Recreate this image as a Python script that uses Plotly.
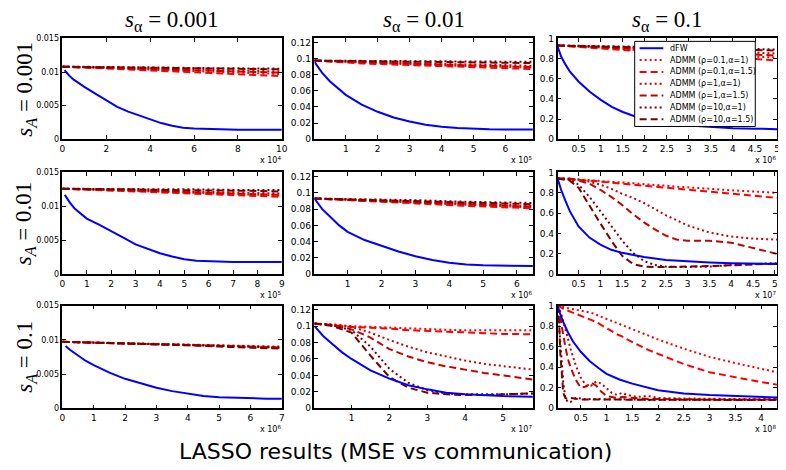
import plotly.graph_objects as go

# The page body adds an 8px margin, so the figure is drawn 8px smaller and
# every pixel position is measured from the window corner minus that offset.
PAGE_OFF = 8
W, H = 786 - PAGE_OFF, 470 - PAGE_OFF

# ---------------- series names / styles ----------------
series_names = ["dFW", "ADMM (ρ=0.1,α=1)", "ADMM (ρ=0.1,α=1.5)", "ADMM (ρ=1,α=1)",
                "ADMM (ρ=1,α=1.5)", "ADMM (ρ=10,α=1)", "ADMM (ρ=10,α=1.5)"]
series_colors = ["#0000ff", "#ff0000", "#ff0000", "#c80000", "#c80000", "#7a0000", "#7a0000"]
series_dash = ["solid", "2px,3px", "7px,4px", "2px,3px", "7px,4px", "2px,3px", "7px,4px"]

col_titles = ["<i>s</i><sub>α</sub> = 0.001", "<i>s</i><sub>α</sub> = 0.01", "<i>s</i><sub>α</sub> = 0.1"]
row_titles = ["<i>s</i><sub><i>A</i></sub> = 0.001", "<i>s</i><sub><i>A</i></sub> = 0.01", "<i>s</i><sub><i>A</i></sub> = 0.1"]
main_title = "LASSO results (MSE vs communication)"

# ---------------- data (x in units of the axis multiplier) ----------------
# row 1, col 1  (x 10^4)
dfw_x_11 = [0.1, 0.3, 0.5, 0.75, 1, 1.5, 2, 2.5, 3, 3.5, 4, 4.5, 5, 5.5, 6, 7, 8, 9, 10]
dfw_y_11 = [0.0103, 0.0095, 0.0089, 0.0083, 0.0078, 0.0068, 0.0058, 0.0048, 0.0041, 0.0035,
            0.0029, 0.0024, 0.0020, 0.0017, 0.0016, 0.00145, 0.0014, 0.0014, 0.0014]
admm_x_11 = [0, 2, 4, 6, 8, 10]
admm_y_11 = [[0.0108, 0.0106, 0.0104, 0.0101, 0.0099, 0.0097],
             [0.0108, 0.0105, 0.0102, 0.0099, 0.0097, 0.0094],
             [0.0108, 0.0107, 0.0105, 0.0104, 0.0102, 0.0101],
             [0.0108, 0.0106, 0.0104, 0.0102, 0.0101, 0.0099],
             [0.0108, 0.0108, 0.0107, 0.0106, 0.0106, 0.0105],
             [0.0108, 0.0107, 0.0106, 0.0106, 0.0105, 0.0104]]

# row 1, col 2  (x 10^5)
dfw_x_12 = [0.02, 0.25, 0.5, 0.75, 1, 1.5, 2, 2.5, 3, 3.5, 4, 4.5, 5, 5.5, 6, 6.86]
dfw_y_12 = [0.096, 0.083, 0.072, 0.063, 0.055, 0.043, 0.034, 0.027, 0.022, 0.018, 0.0155,
            0.014, 0.013, 0.0125, 0.0122, 0.0121]
admm_x_12 = [0.02, 1.5, 3, 4.5, 6, 6.86]
admm_y_12 = [[0.0975, 0.095, 0.093, 0.091, 0.0895, 0.089],
             [0.0975, 0.094, 0.092, 0.090, 0.088, 0.087],
             [0.0975, 0.096, 0.094, 0.093, 0.092, 0.091],
             [0.0975, 0.0955, 0.0935, 0.092, 0.0905, 0.0895],
             [0.0975, 0.097, 0.0965, 0.0965, 0.096, 0.096],
             [0.0975, 0.097, 0.096, 0.0955, 0.095, 0.0945]]

# row 1, col 3  (x 10^6)
dfw_x_13 = [0.02, 0.1, 0.2, 0.3, 0.5, 0.75, 1, 1.25, 1.5, 1.75, 2, 2.5, 3, 3.5, 4, 4.5, 5]
dfw_y_13 = [0.92, 0.82, 0.74, 0.67, 0.57, 0.47, 0.39, 0.32, 0.27, 0.23, 0.20, 0.16, 0.135,
            0.12, 0.11, 0.105, 0.10]
admm_x_13 = [0.02, 1, 2, 3, 4, 5]
admm_y_13 = [[0.93, 0.91, 0.88, 0.86, 0.83, 0.81],
             [0.93, 0.90, 0.87, 0.84, 0.81, 0.78],
             [0.93, 0.92, 0.90, 0.89, 0.87, 0.85],
             [0.93, 0.91, 0.89, 0.87, 0.85, 0.83],
             [0.93, 0.925, 0.92, 0.91, 0.90, 0.89],
             [0.93, 0.92, 0.91, 0.90, 0.89, 0.88]]

# row 2, col 1  (x 10^5)
dfw_x_21 = [0.1, 0.3, 0.5, 0.75, 1, 1.5, 2, 2.5, 3, 3.5, 4, 4.5, 5, 5.5, 6, 7, 8, 9]
dfw_y_21 = [0.0117, 0.0106, 0.0097, 0.0089, 0.0082, 0.0073, 0.0064, 0.0054, 0.0044, 0.0037,
            0.0031, 0.0026, 0.0022, 0.0020, 0.0019, 0.0018, 0.0018, 0.0018]
admm_x_21 = [0, 1.5, 3, 4.5, 6, 7.5, 9]
admm_y_21 = [[0.0126, 0.0125, 0.0123, 0.0121, 0.0119, 0.0118, 0.0116],
             [0.0126, 0.0124, 0.0122, 0.0120, 0.0118, 0.0116, 0.0114],
             [0.0126, 0.0125, 0.0124, 0.0123, 0.0121, 0.0120, 0.0119],
             [0.0126, 0.0125, 0.0123, 0.0122, 0.0120, 0.0119, 0.0117],
             [0.0126, 0.0126, 0.0126, 0.0125, 0.0125, 0.0124, 0.0124],
             [0.0126, 0.0126, 0.0125, 0.0124, 0.0124, 0.0123, 0.0122]]

# row 2, col 2  (x 10^6)
dfw_x_22 = [0.02, 0.25, 0.5, 0.75, 1, 1.5, 2, 2.5, 3, 3.5, 4, 4.5, 5, 5.5, 6, 6.47]
dfw_y_22 = [0.093, 0.080, 0.070, 0.060, 0.052, 0.042, 0.035, 0.028, 0.022, 0.0175, 0.014,
            0.012, 0.011, 0.0105, 0.010, 0.010]
admm_x_22 = [0.02, 1.5, 3, 4.5, 6.47]
admm_y_22 = [[0.093, 0.0905, 0.088, 0.085, 0.082],
             [0.093, 0.090, 0.087, 0.084, 0.081],
             [0.093, 0.091, 0.089, 0.087, 0.084],
             [0.093, 0.0905, 0.0885, 0.086, 0.083],
             [0.093, 0.092, 0.091, 0.089, 0.0875],
             [0.093, 0.0915, 0.090, 0.088, 0.086]]

# row 2, col 3  (x 10^7)
dfw_x_23 = [0.02, 0.1, 0.2, 0.3, 0.5, 0.75, 1, 1.25, 1.5, 2, 2.5, 3, 3.5, 4, 4.5, 5.05]
dfw_y_23 = [0.94, 0.83, 0.72, 0.62, 0.47, 0.36, 0.29, 0.24, 0.21, 0.17, 0.14, 0.125, 0.115,
            0.107, 0.103, 0.10]
admm_x_23 = [0.02, 0.3, 0.5, 0.75, 1, 1.25, 1.5, 1.75, 2, 2.25, 2.5, 2.75, 3, 3.5, 4, 4.5, 5.05]
admm_y_23 = [[0.94, 0.935, 0.93, 0.925, 0.915, 0.91, 0.905, 0.895, 0.885, 0.88, 0.87, 0.86,
              0.855, 0.84, 0.825, 0.81, 0.80],
             [0.94, 0.935, 0.93, 0.92, 0.91, 0.90, 0.89, 0.885, 0.875, 0.865, 0.855, 0.845,
              0.835, 0.815, 0.79, 0.77, 0.75],
             [0.94, 0.94, 0.93, 0.91, 0.88, 0.84, 0.79, 0.75, 0.70, 0.64, 0.58, 0.53, 0.48,
              0.41, 0.37, 0.35, 0.34],
             [0.94, 0.94, 0.92, 0.89, 0.83, 0.76, 0.68, 0.59, 0.51, 0.44, 0.38, 0.34, 0.33,
              0.33, 0.31, 0.26, 0.20],
             [0.94, 0.93, 0.88, 0.76, 0.62, 0.47, 0.33, 0.21, 0.13, 0.09, 0.075, 0.07, 0.07,
              0.075, 0.09, 0.10, 0.11],
             [0.94, 0.92, 0.85, 0.67, 0.50, 0.33, 0.18, 0.10, 0.075, 0.07, 0.07, 0.072, 0.075,
              0.08, 0.09, 0.10, 0.105]]

# row 3, col 1  (x 10^6)
dfw_x_31 = [0.1, 0.25, 0.5, 0.75, 1, 1.5, 2, 2.5, 3, 3.5, 4, 4.5, 5, 5.5, 6, 6.5, 7]
dfw_y_31 = [0.0091, 0.0085, 0.0077, 0.0069, 0.0063, 0.0052, 0.0043, 0.0036, 0.0030, 0.0025,
            0.0021, 0.0018, 0.0016, 0.0015, 0.00145, 0.0014, 0.0014]
admm_x_31 = [0, 1, 2, 3, 4, 5, 6, 7]
admm_y_31 = [[0.0097, 0.0096, 0.0095, 0.0094, 0.0093, 0.0092, 0.0091, 0.0090],
             [0.0097, 0.0096, 0.0095, 0.0094, 0.0092, 0.0091, 0.0090, 0.0089],
             [0.0097, 0.0096, 0.0095, 0.0094, 0.0093, 0.0092, 0.0090, 0.0089],
             [0.0097, 0.0096, 0.0095, 0.0093, 0.0092, 0.0091, 0.0089, 0.0088],
             [0.0097, 0.0096, 0.0095, 0.0094, 0.0093, 0.0091, 0.0090, 0.0088],
             [0.0097, 0.0096, 0.0094, 0.0093, 0.0092, 0.0090, 0.0089, 0.0087]]

# row 3, col 2  (x 10^7)
dfw_x_32 = [0.02, 0.25, 0.5, 0.75, 1, 1.5, 2, 2.5, 3, 3.5, 4, 4.5, 5, 5.79]
dfw_y_32 = [0.100, 0.088, 0.078, 0.068, 0.060, 0.046, 0.036, 0.028, 0.023, 0.019, 0.017,
            0.0155, 0.0148, 0.014]
admm_x_32 = [0.02, 0.5, 1, 1.5, 2, 2.5, 3, 3.5, 4, 4.5, 5, 5.79]
admm_y_32 = [[0.103, 0.102, 0.100, 0.099, 0.098, 0.097, 0.096, 0.0955, 0.095, 0.095, 0.095, 0.095],
             [0.103, 0.101, 0.099, 0.098, 0.097, 0.095, 0.094, 0.093, 0.092, 0.091, 0.0905, 0.090],
             [0.103, 0.102, 0.099, 0.092, 0.083, 0.075, 0.068, 0.063, 0.058, 0.054, 0.051, 0.047],
             [0.103, 0.101, 0.096, 0.086, 0.072, 0.063, 0.056, 0.051, 0.047, 0.043, 0.040, 0.035],
             [0.103, 0.101, 0.095, 0.075, 0.048, 0.031, 0.022, 0.018, 0.017, 0.017, 0.017, 0.018],
             [0.103, 0.100, 0.092, 0.064, 0.038, 0.025, 0.019, 0.017, 0.016, 0.016, 0.017, 0.018]]

# row 3, col 3  (x 10^8)
dfw_x_33 = [0.05, 0.15, 0.25, 0.35, 0.5, 0.67, 0.85, 1.0, 1.25, 1.5, 2.0, 2.5, 3.0, 3.5, 4.0, 4.31]
dfw_y_33 = [0.99, 0.85, 0.74, 0.65, 0.55, 0.46, 0.39, 0.335, 0.28, 0.24, 0.176, 0.144, 0.128,
            0.118, 0.11, 0.105]
admm_x_33 = [0.05, 0.08, 0.1, 0.13, 0.16, 0.2, 0.25, 0.3, 0.4, 0.5, 0.6, 0.7, 0.8, 0.9, 1.0,
             1.1, 1.2, 1.3, 1.4, 1.6, 1.8, 2.0, 2.5, 3.0, 3.5, 4.0, 4.31]
admm_y_33 = [[1.0, 1.0, 0.99, 0.99, 0.985, 0.98, 0.975, 0.97, 0.96, 0.95, 0.94, 0.93, 0.91,
              0.89, 0.87, 0.85, 0.83, 0.81, 0.79, 0.75, 0.71, 0.67, 0.58, 0.50, 0.44, 0.38, 0.35],
             [1.0, 0.99, 0.99, 0.98, 0.97, 0.96, 0.95, 0.94, 0.92, 0.90, 0.88, 0.86, 0.84,
              0.81, 0.78, 0.75, 0.72, 0.70, 0.67, 0.62, 0.57, 0.53, 0.43, 0.35, 0.30, 0.255, 0.23],
             [1.0, 0.97, 0.95, 0.90, 0.85, 0.78, 0.68, 0.58, 0.42, 0.30, 0.22, 0.22, 0.26,
              0.24, 0.19, 0.15, 0.13, 0.15, 0.13, 0.11, 0.12, 0.10, 0.095, 0.09, 0.09, 0.09, 0.09],
             [1.0, 0.95, 0.90, 0.80, 0.70, 0.60, 0.48, 0.40, 0.28, 0.20, 0.21, 0.25, 0.22,
              0.16, 0.12, 0.11, 0.10, 0.11, 0.105, 0.095, 0.09, 0.09, 0.085, 0.085, 0.085, 0.085, 0.085],
             [1.0, 0.80, 0.65, 0.42, 0.25, 0.10, 0.06, 0.06, 0.10, 0.095, 0.085, 0.09, 0.09,
              0.085, 0.085, 0.085, 0.085, 0.085, 0.085, 0.085, 0.08, 0.08, 0.08, 0.08, 0.08, 0.08, 0.08],
             [1.0, 0.85, 0.55, 0.30, 0.15, 0.10, 0.09, 0.10, 0.09, 0.085, 0.085, 0.085, 0.08,
              0.08, 0.08, 0.08, 0.08, 0.08, 0.08, 0.08, 0.08, 0.08, 0.08, 0.08, 0.08, 0.08, 0.08]]

# axis settings per panel: x range, x ticks, multiplier exponent
x_ranges = {(1, 1): [0, 10], (1, 2): [0.02, 6.86], (1, 3): [0.02, 5.0],
            (2, 1): [0, 9], (2, 2): [0.02, 6.47], (2, 3): [0.02, 5.05],
            (3, 1): [0, 7], (3, 2): [0.02, 5.79], (3, 3): [0.05, 4.31]}
x_ticks = {(1, 1): [0, 2, 4, 6, 8, 10], (1, 2): [1, 2, 3, 4, 5, 6],
           (1, 3): [0.5, 1, 1.5, 2, 2.5, 3, 3.5, 4, 4.5, 5],
           (2, 1): [0, 1, 2, 3, 4, 5, 6, 7, 8, 9], (2, 2): [1, 2, 3, 4, 5, 6],
           (2, 3): [0.5, 1, 1.5, 2, 2.5, 3, 3.5, 4, 4.5, 5],
           (3, 1): [0, 1, 2, 3, 4, 5, 6, 7], (3, 2): [1, 2, 3, 4, 5],
           (3, 3): [0.5, 1, 1.5, 2, 2.5, 3, 3.5, 4]}
x_exponent = {(1, 1): 4, (1, 2): 5, (1, 3): 6, (2, 1): 5, (2, 2): 6, (2, 3): 7,
              (3, 1): 6, (3, 2): 7, (3, 3): 8}
y_ranges_by_col = {1: [0, 0.015], 2: [0, 0.125], 3: [0, 1]}
y_ticks_by_col = {1: [0, 0.005, 0.01, 0.015],
                  2: [0, 0.02, 0.04, 0.06, 0.08, 0.1, 0.12],
                  3: [0, 0.2, 0.4, 0.6, 0.8, 1]}
y_ticktext_by_col = {1: ["0", "0.005", "0.01", "0.015"],
                     2: ["0", "0.02", "0.04", "0.06", "0.08", "0.1", "0.12"],
                     3: ["0", "0.2", "0.4", "0.6", "0.8", "1"]}

panel_data = {
    (1, 1): (dfw_x_11, dfw_y_11, admm_x_11, admm_y_11),
    (1, 2): (dfw_x_12, dfw_y_12, admm_x_12, admm_y_12),
    (1, 3): (dfw_x_13, dfw_y_13, admm_x_13, admm_y_13),
    (2, 1): (dfw_x_21, dfw_y_21, admm_x_21, admm_y_21),
    (2, 2): (dfw_x_22, dfw_y_22, admm_x_22, admm_y_22),
    (2, 3): (dfw_x_23, dfw_y_23, admm_x_23, admm_y_23),
    (3, 1): (dfw_x_31, dfw_y_31, admm_x_31, admm_y_31),
    (3, 2): (dfw_x_32, dfw_y_32, admm_x_32, admm_y_32),
    (3, 3): (dfw_x_33, dfw_y_33, admm_x_33, admm_y_33),
}

# ---------------- layout geometry (window pixels) ----------------
COL_PX = [(60, 282), (315, 536), (561, 783)]
ROW_PX = [(34, 137), (171, 275), (307, 412)]


def fx(p):
    return (p - PAGE_OFF) / W


def fy(p):
    return 1 - (p - PAGE_OFF) / H


fig = go.Figure()
layout = dict(width=W, height=H, margin=dict(l=0, r=0, t=0, b=0),
              paper_bgcolor="white", plot_bgcolor="white", showlegend=False,
              font=dict(family="DejaVu Sans", color="black"))
annotations = []
shapes = []

for r in range(1, 4):
    for c in range(1, 4):
        idx = (r - 1) * 3 + c
        xa = "x" if idx == 1 else f"x{idx}"
        ya = "y" if idx == 1 else f"y{idx}"
        dx, dy, ax_, ays = panel_data[(r, c)]
        for k in range(6):
            fig.add_trace(go.Scatter(x=ax_, y=ays[k], mode="lines", name=series_names[k + 1],
                                     line=dict(color=series_colors[k + 1], width=2,
                                               dash=series_dash[k + 1]),
                                     xaxis=xa, yaxis=ya, showlegend=False))
        fig.add_trace(go.Scatter(x=dx, y=dy, mode="lines", name=series_names[0],
                                 line=dict(color=series_colors[0], width=2),
                                 xaxis=xa, yaxis=ya, showlegend=False))
        x0, x1 = COL_PX[c - 1]
        y0, y1 = ROW_PX[r - 1]
        tick_size = 8 if c == 1 else 9
        layout[f"xaxis{'' if idx == 1 else idx}"] = dict(
            domain=[fx(x0), fx(x1)], anchor=ya, range=x_ranges[(r, c)],
            tickvals=x_ticks[(r, c)], ticktext=[f"{v:g}" for v in x_ticks[(r, c)]],
            ticks="inside", ticklen=4, tickwidth=1, tickcolor="black",
            showline=True, linecolor="black", linewidth=1.5, mirror="ticks",
            showgrid=False, zeroline=False, tickfont=dict(size=9, color="black"))
        layout[f"yaxis{'' if idx == 1 else idx}"] = dict(
            domain=[fy(y1), fy(y0)], anchor=xa, range=y_ranges_by_col[c],
            tickvals=y_ticks_by_col[c], ticktext=y_ticktext_by_col[c],
            ticks="inside", ticklen=4, tickwidth=1, tickcolor="black",
            showline=True, linecolor="black", linewidth=1.5, mirror="ticks",
            showgrid=False, zeroline=False, tickfont=dict(size=tick_size, color="black"))
        annotations.append(dict(text=f"x 10<sup>{x_exponent[(r, c)]}</sup>", xref="paper",
                                yref="paper", x=fx(x1 + 1), y=fy(y1 + 14), xanchor="right",
                                yanchor="top", showarrow=False,
                                font=dict(size=8, family="DejaVu Sans", color="black")))

# column titles
for c in range(3):
    x0, x1 = COL_PX[c]
    annotations.append(dict(text=col_titles[c], xref="paper", yref="paper",
                            x=fx((x0 + x1) / 2), y=fy(16), xanchor="center", yanchor="middle",
                            showarrow=False,
                            font=dict(size=23, family="Liberation Serif", color="black")))
# row titles
for r in range(3):
    y0, y1 = ROW_PX[r]
    annotations.append(dict(text=row_titles[r], xref="paper", yref="paper",
                            x=fx(23), y=fy((y0 + y1) / 2), xanchor="center", yanchor="middle",
                            textangle=-90, showarrow=False,
                            font=dict(size=23, family="Liberation Serif", color="black")))
# main title
annotations.append(dict(text=main_title, xref="paper", yref="paper", x=fx(397), y=fy(456),
                        xanchor="center", yanchor="middle", showarrow=False,
                        font=dict(size=22, family="DejaVu Sans", color="black")))

# legend box drawn in the top-right panel
LEG = dict(x0=639, x1=761, y0=37, y1=124)
shapes.append(dict(type="rect", xref="paper", yref="paper", x0=fx(LEG["x0"]), x1=fx(LEG["x1"]),
                   y0=fy(LEG["y1"]), y1=fy(LEG["y0"]), fillcolor="white",
                   line=dict(color="black", width=1), layer="above"))
for i, nm in enumerate(series_names):
    yy = 44 + i * 12.1
    shapes.append(dict(type="line", xref="paper", yref="paper", x0=fx(644), x1=fx(668),
                       y0=fy(yy), y1=fy(yy), layer="above",
                       line=dict(color=series_colors[i], width=2, dash=series_dash[i])))
    annotations.append(dict(text=nm, xref="paper", yref="paper", x=fx(673), y=fy(yy),
                            xanchor="left", yanchor="middle", showarrow=False,
                            font=dict(size=8, family="DejaVu Sans", color="black")))

layout["annotations"] = annotations
layout["shapes"] = shapes
fig.update_layout(**layout)
fig.write_html("out.html")
